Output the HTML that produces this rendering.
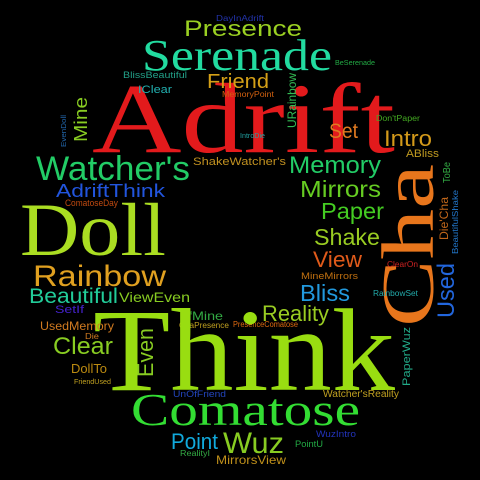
<!DOCTYPE html>
<html><head><meta charset="utf-8"><style>
html,body{margin:0;padding:0;background:#000;}
svg{display:block;}
text{font-family:"Liberation Sans",sans-serif;}
.s{font-family:"Liberation Serif",serif;}
</style></head><body>
<svg width="480" height="480" viewBox="0 0 480 480">
<rect width="480" height="480" fill="#000"/>
<g>
<text class="s" x="92" y="152" font-size="100" fill="#e31a1c" textLength="303" lengthAdjust="spacingAndGlyphs">Adrift</text>
<text class="s" x="142" y="70" font-size="44" fill="#22dba0" textLength="190" lengthAdjust="spacingAndGlyphs">Serenade</text>
<text x="184" y="36" font-size="22" fill="#9ad022" textLength="118" lengthAdjust="spacingAndGlyphs">Presence</text>
<text x="216" y="21" font-size="8" fill="#2233aa" textLength="48" lengthAdjust="spacingAndGlyphs">DayInAdrift</text>
<text x="335" y="65" font-size="7" fill="#22aa44" textLength="40" lengthAdjust="spacingAndGlyphs">BeSerenade</text>
<text x="123" y="78" font-size="9" fill="#22a088" textLength="64" lengthAdjust="spacingAndGlyphs">BlissBeautiful</text>
<text x="138" y="93" font-size="11" fill="#22b0b0" textLength="34" lengthAdjust="spacingAndGlyphs">IClear</text>
<text x="207" y="88" font-size="20" fill="#d4a017" textLength="62" lengthAdjust="spacingAndGlyphs">Friend</text>
<text x="222" y="97" font-size="8" fill="#d06010" textLength="52" lengthAdjust="spacingAndGlyphs">MemoryPoint</text>
<text x="87" y="142" font-size="18" fill="#88cc22" textLength="45" lengthAdjust="spacingAndGlyphs" transform="rotate(-90 87 142)">Mine</text>
<text x="66" y="147" font-size="7" fill="#2266aa" textLength="32" lengthAdjust="spacingAndGlyphs" transform="rotate(-90 66 147)">EvenDoll</text>
<text x="296" y="128" font-size="12" fill="#33bb55" textLength="55" lengthAdjust="spacingAndGlyphs" transform="rotate(-90 296 128)">URainbow</text>
<text x="240" y="138" font-size="7" fill="#22a0a0" textLength="25" lengthAdjust="spacingAndGlyphs">IntroDie</text>
<text x="376" y="121" font-size="8" fill="#44aa22" textLength="44" lengthAdjust="spacingAndGlyphs">Don'tPaper</text>
<text x="329" y="138" font-size="21" fill="#e07a20" textLength="29" lengthAdjust="spacingAndGlyphs">Set</text>
<text x="384" y="146" font-size="22" fill="#d49a1a" textLength="48" lengthAdjust="spacingAndGlyphs">Intro</text>
<text x="406" y="157" font-size="11" fill="#c09a20" textLength="33" lengthAdjust="spacingAndGlyphs">ABliss</text>
<text x="450" y="183" font-size="10" fill="#33aa44" textLength="21" lengthAdjust="spacingAndGlyphs" transform="rotate(-90 450 183)">ToBe</text>
<text x="458" y="254" font-size="8" fill="#2277cc" textLength="64" lengthAdjust="spacingAndGlyphs" transform="rotate(-90 458 254)">BeautifulShake</text>
<text x="448" y="240" font-size="12" fill="#c0661a" textLength="43" lengthAdjust="spacingAndGlyphs" transform="rotate(-90 448 240)">Die'Cha</text>
<text class="s" x="433" y="327" font-size="74" fill="#e8761c" textLength="163" lengthAdjust="spacingAndGlyphs" transform="rotate(-90 433 327)">Cha</text>
<text x="454" y="318" font-size="24" fill="#2266dd" textLength="55" lengthAdjust="spacingAndGlyphs" transform="rotate(-90 454 318)">Used</text>
<text x="36" y="180" font-size="34" fill="#22cc66" textLength="154" lengthAdjust="spacingAndGlyphs">Watcher's</text>
<text x="193" y="165" font-size="11" fill="#c09020" textLength="93" lengthAdjust="spacingAndGlyphs">ShakeWatcher's</text>
<text x="289" y="173" font-size="24" fill="#22cc66" textLength="92" lengthAdjust="spacingAndGlyphs">Memory</text>
<text x="300" y="197" font-size="23" fill="#66cc22" textLength="81" lengthAdjust="spacingAndGlyphs">Mirrors</text>
<text x="321" y="219" font-size="23" fill="#44cc22" textLength="63" lengthAdjust="spacingAndGlyphs">Paper</text>
<text x="314" y="245" font-size="23" fill="#99cc22" textLength="66" lengthAdjust="spacingAndGlyphs">Shake</text>
<text x="313" y="267" font-size="22" fill="#e05a1a" textLength="49" lengthAdjust="spacingAndGlyphs">View</text>
<text x="387" y="267" font-size="8" fill="#cc2222" textLength="31" lengthAdjust="spacingAndGlyphs">ClearOn</text>
<text x="301" y="279" font-size="9" fill="#c07010" textLength="57" lengthAdjust="spacingAndGlyphs">MineMirrors</text>
<text x="300" y="301" font-size="23" fill="#2299dd" textLength="50" lengthAdjust="spacingAndGlyphs">Bliss</text>
<text x="373" y="296" font-size="8" fill="#22aaaa" textLength="45" lengthAdjust="spacingAndGlyphs">RainbowSet</text>
<text x="56" y="197" font-size="18" fill="#2255dd" textLength="109" lengthAdjust="spacingAndGlyphs">AdriftThink</text>
<text x="65" y="206" font-size="9" fill="#c04a10" textLength="53" lengthAdjust="spacingAndGlyphs">ComatoseDay</text>
<text class="s" x="20" y="255" font-size="75" fill="#aadd22" textLength="146" lengthAdjust="spacingAndGlyphs">Doll</text>
<text x="33" y="286" font-size="30" fill="#e0a020" textLength="133" lengthAdjust="spacingAndGlyphs">Rainbow</text>
<text x="29" y="303" font-size="21" fill="#22cc99" textLength="89" lengthAdjust="spacingAndGlyphs">Beautiful</text>
<text x="119" y="302" font-size="14" fill="#88cc22" textLength="71" lengthAdjust="spacingAndGlyphs">ViewEven</text>
<text x="55" y="313" font-size="11" fill="#4422cc" textLength="29" lengthAdjust="spacingAndGlyphs">SetIf</text>
<text x="184" y="320" font-size="12" fill="#33aa44" textLength="39" lengthAdjust="spacingAndGlyphs">IfMine</text>
<text x="179" y="328" font-size="8" fill="#c0a020" textLength="50" lengthAdjust="spacingAndGlyphs">ChaPresence</text>
<text x="233" y="327" font-size="8" fill="#e06a10" textLength="65" lengthAdjust="spacingAndGlyphs">PresenceComatose</text>
<text x="262" y="321" font-size="22" fill="#99cc22" textLength="67" lengthAdjust="spacingAndGlyphs">Reality</text>
<text class="s" x="93" y="390" font-size="118" fill="#99dd11" textLength="302" lengthAdjust="spacingAndGlyphs">Think</text>
<text x="40" y="330" font-size="12" fill="#d07a20" textLength="74" lengthAdjust="spacingAndGlyphs">UsedMemory</text>
<text x="85" y="339" font-size="8" fill="#d07a20" textLength="14" lengthAdjust="spacingAndGlyphs">Die</text>
<text x="53" y="354" font-size="24" fill="#88cc22" textLength="60" lengthAdjust="spacingAndGlyphs">Clear</text>
<text x="153" y="377" font-size="22" fill="#88cc22" textLength="49" lengthAdjust="spacingAndGlyphs" transform="rotate(-90 153 377)">Even</text>
<text x="71" y="373" font-size="13" fill="#bb8a10" textLength="36" lengthAdjust="spacingAndGlyphs">DollTo</text>
<text x="74" y="384" font-size="7" fill="#c0a020" textLength="37" lengthAdjust="spacingAndGlyphs">FriendUsed</text>
<text x="410" y="386" font-size="11" fill="#22aa88" textLength="59" lengthAdjust="spacingAndGlyphs" transform="rotate(-90 410 386)">PaperWuz</text>
<text x="323" y="397" font-size="10" fill="#c0a020" textLength="76" lengthAdjust="spacingAndGlyphs">Watcher'sReality</text>
<text x="173" y="397" font-size="9" fill="#2244bb" textLength="53" lengthAdjust="spacingAndGlyphs">UnOfFriend</text>
<text class="s" x="131" y="425" font-size="46" fill="#33dd33" textLength="229" lengthAdjust="spacingAndGlyphs">Comatose</text>
<text x="171" y="449" font-size="22" fill="#11aadd" textLength="47" lengthAdjust="spacingAndGlyphs">Point</text>
<text x="223" y="453" font-size="30" fill="#88cc22" textLength="61" lengthAdjust="spacingAndGlyphs">Wuz</text>
<text x="316" y="437" font-size="9" fill="#2233bb" textLength="40" lengthAdjust="spacingAndGlyphs">WuzIntro</text>
<text x="295" y="447" font-size="9" fill="#22aa44" textLength="28" lengthAdjust="spacingAndGlyphs">PointU</text>
<text x="180" y="456" font-size="8" fill="#33aa44" textLength="30" lengthAdjust="spacingAndGlyphs">RealityI</text>
<text x="216" y="464" font-size="12" fill="#c0901a" textLength="70" lengthAdjust="spacingAndGlyphs">MirrorsView</text>
</g>
</svg>
</body></html>
